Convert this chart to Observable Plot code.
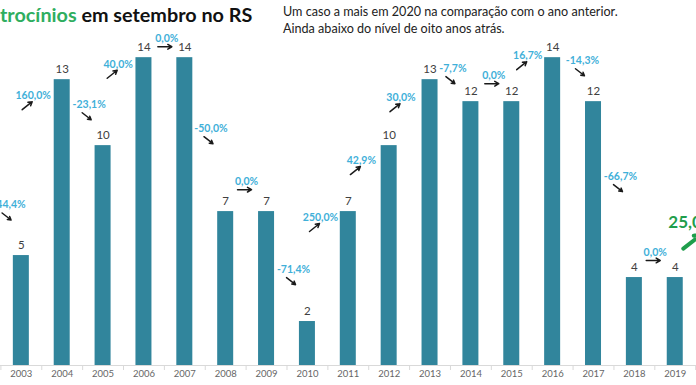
<!DOCTYPE html>
<html><head><meta charset="utf-8">
<script src="https://cdn.jsdelivr.net/npm/d3@7"></script>
<script src="https://cdn.jsdelivr.net/npm/@observablehq/plot@0.6"></script>
<style>
html,body{margin:0;padding:0;background:#fff;overflow:hidden;}
#wrap{position:relative;width:696px;height:385px;overflow:hidden;font-family:Lato,"Open Sans",sans-serif;}
#chart{position:absolute;left:0;top:0;}
#title{position:absolute;left:0;top:3px;font-weight:700;font-size:19.8px;line-height:23px;color:#111;white-space:nowrap;}
#title .g{color:#2fae5f;}
#sub{position:absolute;left:283px;top:3px;font-size:12.6px;line-height:17px;color:#222;white-space:nowrap;}
</style></head>
<body>
<div id="wrap">
  <div id="chart"></div>
  <div id="title"><span class="g"><span id="cut">La</span>trocínios</span> em setembro no RS</div>
  <div id="sub">Um caso a mais em 2020 na comparação com o ano anterior.<br>Ainda abaixo do nível de oito anos atrás.</div>
</div>
<script>
// ---- data ----
const years = [2003,2004,2005,2006,2007,2008,2009,2010,2011,2012,2013,2014,2015,2016,2017,2018,2019];
const cases = [5,13,10,14,14,7,7,2,7,10,13,12,12,14,12,4,4];
const changeLabels = ["-44,4%","160,0%","-23,1%","40,0%","0,0%","-50,0%","0,0%","-71,4%","250,0%","42,9%","30,0%","-7,7%","0,0%","16,7%","-14,3%","-66,7%","0,0%"];
const changeDir = [-1,1,-1,1,0,-1,0,-1,1,1,1,-1,0,1,-1,-1,0];
// annotation placement (year position, level in cases)
const labelX = [2002.7,2003.29,2004.66,2005.37,2006.56,2007.64,2008.51,2009.66,2010.32,2011.32,2012.29,2013.56,2014.56,2015.39,2016.73,2017.66,2018.51];
const labelLevel = [7.3,12.27,11.86,13.7,14.86,10.77,8.36,4.36,6.73,9.32,12.18,13.5,13.18,14.09,13.86,8.59,5.14];
const nextLabel = "25,0%";
const nextX = 2018.83, nextLevel = 6.5;

// ---- layout ----
const W = 696, H = 385;
const xDom = [2002.49, 2019.52], yDom = [0, 16.6];
const plotH = H - 20;
const pxX = p => p * (xDom[1] - xDom[0]) / W;
const pxY = p => -p * (yDom[1] - yDom[0]) / plotH;
const barHalf = pxX(8);

const rows = years.map((y, i) => ({year: y, cases: cases[i]}));
const changes = years.map((y, i) => ({label: changeLabels[i], dir: changeDir[i], x: labelX[i], level: labelLevel[i]}));
const off = {"1": [-11, 14, -1, 6], "-1": [-7, 8, 2, 15], "0": [-9, 8, 5, 8]};
const boundaries = [years[0] - 0.5, ...years.map(y => y + 0.5)];
const next = [{label: nextLabel, x: nextX, level: nextLevel}];

const chart = Plot.plot({
  width: W, height: H,
  marginLeft: 0, marginRight: 0, marginTop: 0, marginBottom: 20,
  style: {fontFamily: "Lato, 'Open Sans', sans-serif", background: "transparent"},
  x: {type: "linear", domain: xDom, label: null},
  y: {domain: yDom, axis: null},
  marks: [
    Plot.rectY(rows, {x1: d => d.year - barHalf, x2: d => d.year + barHalf, y: "cases", fill: "#31859c"}),
    Plot.ruleY([0], {stroke: "#d9d9d9", strokeWidth: 1}),
    Plot.axisX(boundaries, {tickSize: 5, stroke: "#d9d9d9", tickFormat: () => "", label: null}),
    Plot.axisX(years, {tickSize: 0, tickPadding: 5, tickFormat: d => String(d), fontSize: 9.5, fill: "#666666", label: null}),
    Plot.text(rows, {x: "year", y: "cases", text: d => String(d.cases), dy: -10, fontSize: 11.5, fill: "#404040"}),
    Plot.text(changes, {x: "x", y: "level", text: "label", fill: "#3fb0d9", fontWeight: 700, fontSize: 10.5}),
    Plot.arrow(changes, {
      x1: d => d.x + pxX(off[d.dir][0]), y1: d => d.level + pxY(off[d.dir][1]),
      x2: d => d.x + pxX(off[d.dir][2]), y2: d => d.level + pxY(off[d.dir][3]),
      stroke: "#1a1a1a", strokeWidth: 1.5, headLength: 5
    }),
    Plot.text(next, {x: "x", y: "level", text: "label", textAnchor: "start", fill: "#1f9e4c", fontWeight: 700, fontSize: 17}),
    Plot.arrow(next, {
      x1: d => d.x + pxX(15), y1: d => d.level + pxY(26),
      x2: d => d.x + pxX(33), y2: d => d.level + pxY(12),
      stroke: "#1f9e4c", strokeWidth: 4, headLength: 12
    })
  ]
});
document.getElementById("chart").appendChild(chart);
const cut = document.getElementById("cut");
document.getElementById("title").style.left = (-cut.getBoundingClientRect().width) + "px";
</script>
</body></html>
